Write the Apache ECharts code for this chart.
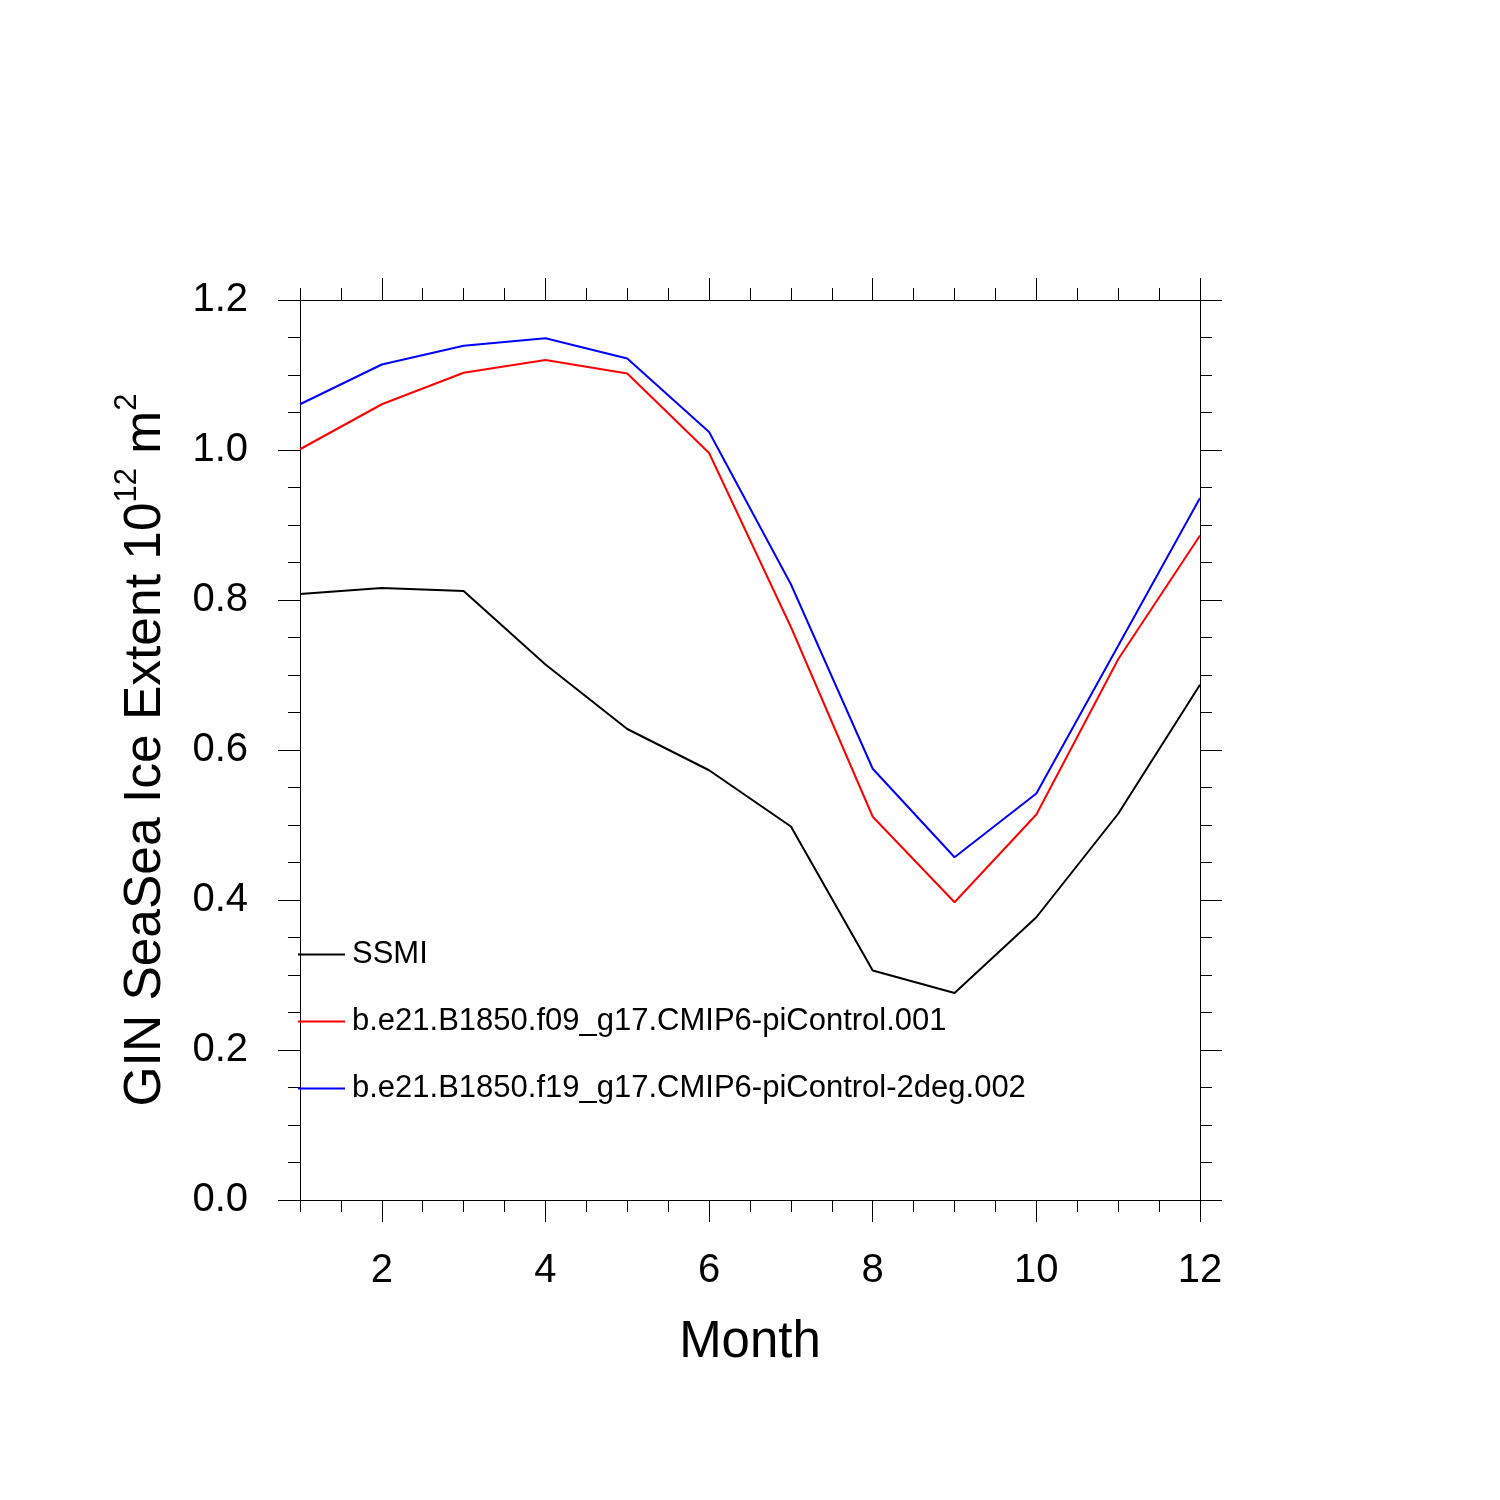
<!DOCTYPE html>
<html>
<head>
<meta charset="utf-8">
<script src="https://cdn.jsdelivr.net/npm/echarts@6/dist/echarts.min.js"></script>
<style>
html,body{margin:0;padding:0;background:#fff;}
#chart{width:1500px;height:1500px;}
</style>
</head>
<body>
<div id="chart"></div>
<script>
const months = [1,2,3,4,5,6,7,8,9,10,11,12];
const ssmi = [0.808,0.816,0.812,0.714,0.628,0.573,0.498,0.306,0.276,0.377,0.515,0.687];
const f09 = [1.001,1.061,1.103,1.120,1.102,0.996,0.764,0.511,0.397,0.514,0.721,0.886];
const f19 = [1.061,1.114,1.139,1.149,1.122,1.024,0.821,0.575,0.457,0.542,0.739,0.936];
const seriesNames = ['SSMI','b.e21.B1850.f09_g17.CMIP6-piControl.001','b.e21.B1850.f19_g17.CMIP6-piControl-2deg.002'];
const seriesColors = ['#000000','#ff0000','#0000ff'];
const xMajorTicks = [2,4,6,8,10,12];

const FONT = 'Liberation Sans, Arial, Helvetica, sans-serif';
const axisLine = {show:true, lineStyle:{color:'#000', width:1}};

function majorX(pos, labels){
  return {
    type:'value', position:pos, min:1, max:12, gridIndex:0,
    axisLine: axisLine,
    axisTick:{show:true, inside:false, length:22, customValues:xMajorTicks, lineStyle:{color:'#000', width:1}},
    axisLabel: labels ? {show:true, customValues:xMajorTicks, fontSize:40, color:'#000', fontFamily:FONT, margin:51} : {show:false},
    splitLine:{show:false},
    name: labels ? 'Month' : '',
    nameLocation:'middle', nameGap:117,
    nameTextStyle:{fontSize:51, color:'#000', fontFamily:FONT}
  };
}
function minorX(pos){
  return {
    type:'value', position:pos, min:1, max:12, interval:0.5, gridIndex:0,
    axisLine:{show:false},
    axisTick:{show:true, inside:false, length:12, lineStyle:{color:'#000', width:1}},
    axisLabel:{show:false},
    splitLine:{show:false}
  };
}
function yAx(pos, labels){
  return {
    type:'value', position:pos, min:0, max:1.2, interval:0.2, gridIndex:0,
    axisLine: axisLine,
    axisTick:{show:true, inside:false, length:22, lineStyle:{color:'#000', width:1}},
    minorTick:{show:true, splitNumber:4, length:12, lineStyle:{color:'#000', width:1}},
    axisLabel: labels ? {show:true, fontSize:40, color:'#000', fontFamily:FONT, margin:52,
      padding:[4,0,0,0], formatter: v => v.toFixed(1)} : {show:false},
    splitLine:{show:false}, minorSplitLine:{show:false},
    name: labels ? '{a|GIN SeaSea Ice Extent 10}{s|12}{a| m}{s|2}' : '',
    nameLocation:'middle', nameGap:128, nameRotate:90,
    nameTextStyle:{
      color:'#000', fontFamily:FONT,
      rich:{
        a:{fontSize:51.5, lineHeight:60, color:'#000', fontFamily:FONT, verticalAlign:'bottom'},
        s:{fontSize:31, lineHeight:60, color:'#000', fontFamily:FONT, verticalAlign:'top'}
      }
    }
  };
}

const datasets = [ssmi, f09, f19];
const chart = echarts.init(document.getElementById('chart'), null, {renderer:'canvas'});
chart.setOption({
  backgroundColor:'#fff',
  animation:false,
  grid:{left:300, top:300, width:900, height:900, containLabel:false},
  xAxis:[majorX('bottom', true), minorX('bottom'), majorX('top', false), minorX('top')],
  yAxis:[yAx('left', true), yAx('right', false)],
  legend:{
    show:true, orient:'vertical', left:298, top:939, padding:0,
    icon:'rect', itemWidth:47, itemHeight:2, itemGap:36,
    textStyle:{fontSize:31, color:'#000', fontFamily:FONT, padding:[0,0,0,2]},
    data: seriesNames
  },
  series: datasets.map((d,i) => ({
    name: seriesNames[i], type:'line', xAxisIndex:0, yAxisIndex:0,
    data: months.map((m,j) => [m, d[j]]),
    showSymbol:false, symbol:'none',
    lineStyle:{color:seriesColors[i], width:2},
    itemStyle:{color:seriesColors[i]}
  }))
});
</script>
</body>
</html>
